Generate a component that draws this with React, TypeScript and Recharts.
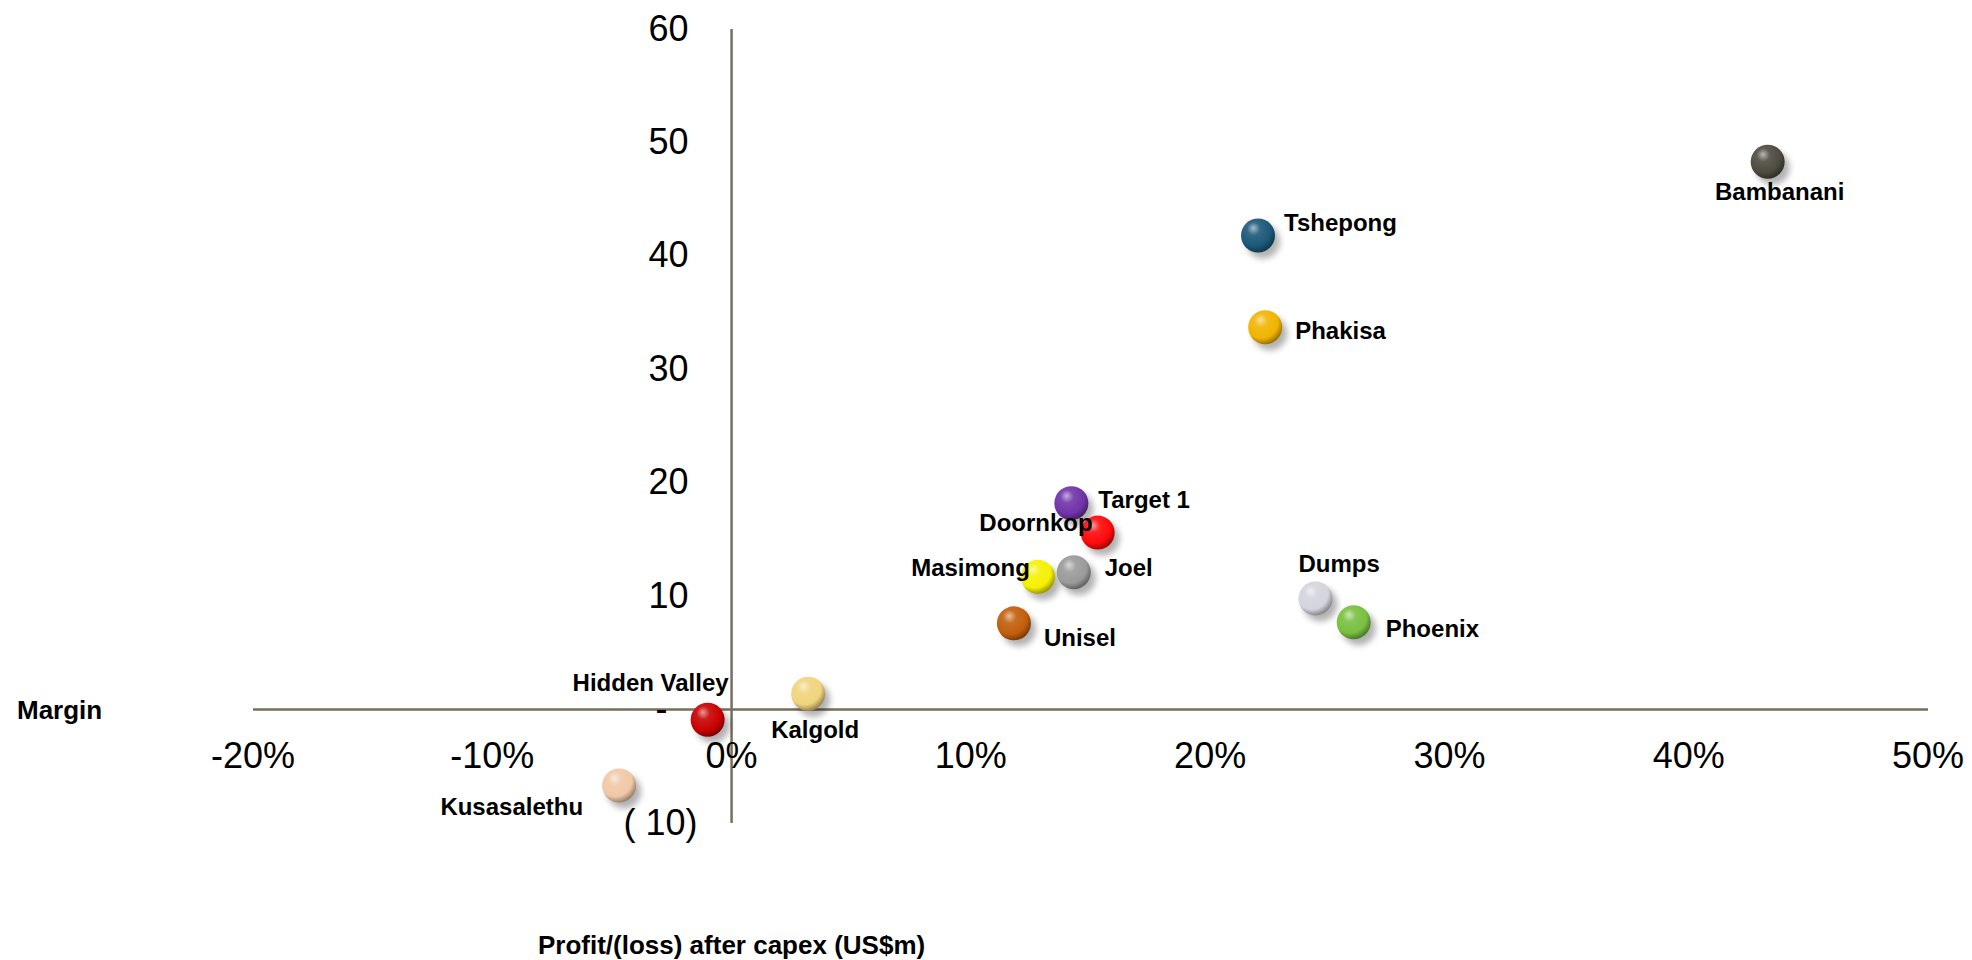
import React from "react";
import {
  ScatterChart,
  Scatter,
  XAxis,
  YAxis,
  ReferenceLine,
  Customized,
} from "recharts";

// ---------- data ----------
const mineNames = [
  "Bambanani",
  "Tshepong",
  "Phakisa",
  "Target 1",
  "Doornkop",
  "Masimong",
  "Joel",
  "Unisel",
  "Dumps",
  "Phoenix",
  "Kalgold",
  "Hidden Valley",
  "Kusasalethu",
];
const marginPct = [43.3, 22.0, 22.3, 14.2, 15.3, 12.8, 14.3, 11.8, 24.4, 26.0, 3.2, -1.0, -4.7];
const profitAfterCapex = [48.3, 41.8, 33.7, 18.2, 15.6, 11.7, 12.1, 7.6, 9.8, 7.7, 1.4, -0.9, -6.7];
const xTicks = [-20, -10, 0, 10, 20, 30, 40, 50];
const yTicks = [-10, 0, 10, 20, 30, 40, 50, 60];

// ---------- styles ----------
const bubbleColors: Record<string, string> = {
  Bambanani: "#4d4a40",
  Tshepong: "#1b5878",
  Phakisa: "#f0b400",
  "Target 1": "#7033a8",
  Doornkop: "#ff0a0a",
  Masimong: "#f6f000",
  Joel: "#9a9a9a",
  Unisel: "#c25e0c",
  Dumps: "#d4d4dc",
  Phoenix: "#78c040",
  Kalgold: "#f0d47c",
  "Hidden Valley": "#c80000",
  Kusasalethu: "#f0c8a6",
};
// label placement relative to bubble centre: [dx, dy(center), anchor]
const labelPlacement: Record<string, [number, number, string]> = {
  Bambanani: [12, 30, "middle"],
  Tshepong: [26, -13, "start"],
  Phakisa: [30, 3, "start"],
  "Target 1": [27, -4, "start"],
  Doornkop: [-5, -10, "end"],
  Masimong: [-8, -9, "end"],
  Joel: [31, -5, "start"],
  Unisel: [30, 14, "start"],
  Dumps: [-17, -35, "start"],
  Phoenix: [32, 6, "start"],
  Kalgold: [-37, 36, "start"],
  "Hidden Valley": [21, -37, "end"],
  Kusasalethu: [-36, 21, "end"],
};

const W = 1972;
const H = 960;
const MARGIN = { top: 29, right: 44, bottom: 136, left: 252 };
const PLOT_LEFT = MARGIN.left + 1;
const PLOT_RIGHT = W - MARGIN.right;
const PLOT_TOP = MARGIN.top;
const PLOT_BOTTOM = H - MARGIN.bottom - 1;
const X_MIN = -20, X_MAX = 50, Y_MIN = -10, Y_MAX = 60;
const ZERO_Y = PLOT_TOP + (PLOT_BOTTOM - PLOT_TOP) * (Y_MAX / (Y_MAX - Y_MIN));
const ZERO_X = PLOT_LEFT + (PLOT_RIGHT - PLOT_LEFT) * (-X_MIN / (X_MAX - X_MIN));

const FONT = "'Liberation Sans', Arial, Helvetica, sans-serif";
const AXIS_COLOR = "#776f5e";
const BUBBLE_R = 17;

const data = mineNames.map((name, i) => ({
  name,
  x: marginPct[i],
  y: profitAfterCapex[i],
}));

function mix(hex: string, target: string, t: number) {
  const p = (h: string) => [1, 3, 5].map((k) => parseInt(h.slice(k, k + 2), 16));
  const a = p(hex);
  const b = p(target);
  const c = a.map((v, i) => Math.round(v + (b[i] - v) * t));
  return "#" + c.map((v) => v.toString(16).padStart(2, "0")).join("");
}

const Bubble = (props: any) => {
  const { cx, cy, payload } = props;
  if (cx == null || cy == null) return null;
  const color = bubbleColors[payload.name] || "#888888";
  const id = "g" + payload.name.replace(/[^A-Za-z0-9]/g, "");
  return (
    <g>
      <defs>
        <radialGradient id={id} cx="40%" cy="35%" r="65%" fx="36%" fy="28%">
          <stop offset="0%" stopColor={mix(color, "#ffffff", 0.6)} />
          <stop offset="30%" stopColor={mix(color, "#ffffff", 0.1)} />
          <stop offset="75%" stopColor={color} />
          <stop offset="100%" stopColor={mix(color, "#000000", 0.35)} />
        </radialGradient>
        <filter id={"s" + id} x="-60%" y="-60%" width="220%" height="220%">
          <feGaussianBlur stdDeviation="3" />
        </filter>
      </defs>
      <circle cx={cx + 5} cy={cy + 6} r={BUBBLE_R} fill="#000" opacity={0.3} filter={`url(#s${id})`} />
      <circle cx={cx} cy={cy} r={BUBBLE_R} fill={`url(#${id})`} />
    </g>
  );
};

const BubbleLabel = (props: any) => {
  const { cx, cy, payload } = props;
  if (cx == null || cy == null) return null;
  const [dx, dy, anchor] = labelPlacement[payload.name] || [20, 0, "start"];
  return (
    <text
      x={cx + dx}
      y={cy + dy + 8.5}
      textAnchor={anchor as any}
      fontFamily={FONT}
      fontWeight="bold"
      fontSize={24}
      fill="#000"
    >
      {payload.name}
    </text>
  );
};

const XTick = (props: any) => {
  const { x, payload } = props;
  return (
    <text x={x} y={ZERO_Y + 45 + 13} textAnchor="middle" fontFamily={FONT} fontSize={36} fill="#000">
      {`${payload.value}%`}
    </text>
  );
};

const YTick = (props: any) => {
  const { y, payload } = props;
  const v = payload.value as number;
  let label = `${v}`;
  let xr = ZERO_X - 43;
  if (v === 0) {
    label = "-";
    xr = ZERO_X - 64;
  } else if (v < 0) {
    label = `( ${Math.abs(v)})`;
    xr = ZERO_X - 34;
  }
  return (
    <text x={xr} y={y + 11.5} textAnchor="end" fontFamily={FONT} fontSize={36} fill="#000">
      {label}
    </text>
  );
};

const AxisTitles = () => (
  <g>
    <text x={17} y={ZERO_Y + 9.5} fontFamily={FONT} fontWeight="bold" fontSize={26} fill="#000">
      Margin
    </text>
    <text
      x={ZERO_X}
      y={954}
      textAnchor="middle"
      fontFamily={FONT}
      fontWeight="bold"
      fontSize={26}
      fill="#000"
    >
      Profit/(loss) after capex (US$m)
    </text>
  </g>
);

export default function App() {
  return (
    <div style={{ position: "absolute", left: 0, top: 0, width: W, height: H, background: "#fff" }}>
      <ScatterChart width={W} height={H} margin={MARGIN}>
        <XAxis
          type="number"
          dataKey="x"
          domain={[X_MIN, X_MAX]}
          ticks={xTicks}
          interval={0}
          axisLine={false}
          tickLine={false}
          height={1}
          tick={<XTick />}
        />
        <YAxis
          type="number"
          dataKey="y"
          domain={[Y_MIN, Y_MAX]}
          ticks={yTicks}
          interval={0}
          axisLine={false}
          tickLine={false}
          width={1}
          tick={<YTick />}
        />
        <ReferenceLine y={0} stroke={AXIS_COLOR} strokeWidth={2.5} />
        <ReferenceLine x={0} stroke={AXIS_COLOR} strokeWidth={2.5} />
        <Scatter data={data} shape={<Bubble />} isAnimationActive={false} />
        <Scatter data={data} shape={<BubbleLabel />} isAnimationActive={false} />
        <Customized component={<AxisTitles />} />
      </ScatterChart>
    </div>
  );
}
